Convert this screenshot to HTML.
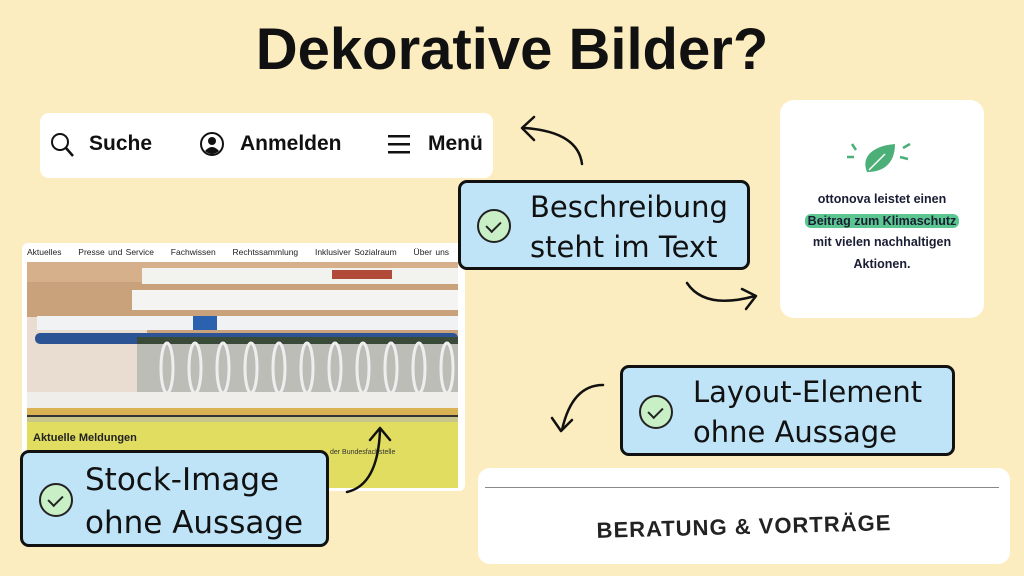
<!DOCTYPE html>
<html><head><meta charset="utf-8"><style>
*{margin:0;padding:0;box-sizing:border-box}
body{width:1024px;height:576px;background:#fcedc0;position:relative;overflow:hidden;font-family:"Liberation Sans","DejaVu Sans",sans-serif}
.a{position:absolute}
.lbl{position:absolute;background:#bfe4f8;border:3px solid #111;border-radius:9px;color:#111;font-family:"DejaVu Sans","Liberation Sans",sans-serif;font-size:29px;line-height:40px}
.chk{position:absolute;width:34px;height:34px;border-radius:50%;background:#c9efc6;border:2.5px solid #222}
.chk:after{content:"";position:absolute;left:10px;top:7px;width:7px;height:12px;border-right:2px solid #222;border-bottom:2px solid #222;transform:rotate(45deg)}
</style></head><body>
<div class="a" style="left:0;top:16px;width:1024px;text-align:center;font-size:58px;font-weight:bold;color:#111;letter-spacing:0px">Dekorative Bilder?</div>

<!-- nav box -->
<div class="a" style="left:40px;top:113px;width:453px;height:65px;background:#fff;border-radius:9px"></div>
<svg class="a" style="left:48px;top:130px" width="30" height="30"><circle cx="12" cy="12" r="8" fill="none" stroke="#111" stroke-width="2"/><line x1="18" y1="18" x2="25" y2="26" stroke="#111" stroke-width="2.5"/></svg>
<div class="a" style="left:89px;top:132px;font-size:21px;font-weight:bold;color:#111">Suche</div>
<svg class="a" style="left:199px;top:131px" width="28" height="28"><circle cx="13" cy="13" r="11" fill="none" stroke="#111" stroke-width="2"/><circle cx="13" cy="10" r="4" fill="#111"/><path d="M6 20 Q13 12 20 20 Q13 26 6 20Z" fill="#111"/></svg>
<div class="a" style="left:240px;top:132px;font-size:21px;font-weight:bold;color:#111">Anmelden</div>
<svg class="a" style="left:387px;top:133px" width="26" height="24"><rect x="1" y="2" width="22" height="2.5" fill="#111"/><rect x="1" y="10" width="22" height="2.5" fill="#111"/><rect x="1" y="18" width="22" height="2.5" fill="#111"/></svg>
<div class="a" style="left:428px;top:132px;font-size:21px;font-weight:bold;color:#111">Menü</div>

<!-- right card -->
<div class="a" style="left:780px;top:100px;width:204px;height:218px;background:#fff;border-radius:14px"></div>
<svg class="a" style="left:845px;top:140px" width="70" height="40"><path d="M22 32 C16 18 26 6 50 4 C50 22 40 32 22 32Z" fill="#4caf78"/><path d="M24 30 L40 14" stroke="#fff" stroke-width="1.5"/><line x1="7" y1="4" x2="11" y2="10" stroke="#4caf78" stroke-width="2.5"/><line x1="2" y1="17" x2="9" y2="17" stroke="#4caf78" stroke-width="2.5"/><line x1="58" y1="8" x2="65" y2="4" stroke="#4caf78" stroke-width="2.5"/><line x1="55" y1="17" x2="63" y2="19" stroke="#4caf78" stroke-width="2.5"/></svg>
<div class="a" style="left:780px;top:189px;width:204px;text-align:center;font-size:12.5px;font-weight:bold;color:#1a1d33;line-height:21.5px">ottonova leistet einen<br><span style="background:#5bc690;border-radius:6px;padding:0 3px">Beitrag zum Klimaschutz</span><br>mit vielen nachhaltigen<br>Aktionen.</div>

<!-- screenshot -->
<div class="a" style="left:22px;top:243px;width:443px;height:248px;background:#fff;border-radius:6px"></div>
<div class="a" style="left:27px;top:247px;font-size:8.5px;color:#222;word-spacing:1px;white-space:nowrap">Aktuelles&nbsp;&nbsp;&nbsp;&nbsp; Presse und Service&nbsp;&nbsp;&nbsp;&nbsp; Fachwissen&nbsp;&nbsp;&nbsp;&nbsp; Rechtssammlung&nbsp;&nbsp;&nbsp;&nbsp; Inklusiver Sozialraum&nbsp;&nbsp;&nbsp;&nbsp; Über uns&nbsp;&nbsp;&nbsp;&nbsp; Kontakt</div>
<svg class="a" style="left:27px;top:262px" width="431" height="226">
<rect width="431" height="226" fill="#e1dd60"/>
<rect width="431" height="146" fill="#c9a27c"/>
<rect y="0" width="431" height="20" fill="#d6b08a"/>
<rect x="0" y="55" width="120" height="90" fill="#e8ddd0"/>
<rect x="115" y="6" width="316" height="16" fill="#f2f2ee"/>
<rect x="305" y="8" width="60" height="9" fill="#b24a3a"/>
<rect x="105" y="28" width="326" height="20" fill="#f4f4f2"/>
<rect x="10" y="54" width="421" height="14" fill="#f0f2f4"/>
<rect x="166" y="54" width="24" height="14" fill="#2b62b0"/>
<rect x="8" y="71" width="423" height="11" rx="5" fill="#2c5394"/>
<rect x="110" y="75" width="321" height="7" fill="#3a4a38"/>
<rect x="110" y="82" width="321" height="48" fill="#bdbdb8"/>
<g fill="none" stroke="#eee" stroke-width="3">
<ellipse cx="140" cy="106" rx="6" ry="25"/><ellipse cx="168" cy="106" rx="6" ry="25"/><ellipse cx="196" cy="106" rx="6" ry="25"/><ellipse cx="224" cy="106" rx="6" ry="25"/><ellipse cx="252" cy="106" rx="6" ry="25"/><ellipse cx="280" cy="106" rx="6" ry="25"/><ellipse cx="308" cy="106" rx="6" ry="25"/><ellipse cx="336" cy="106" rx="6" ry="25"/><ellipse cx="364" cy="106" rx="6" ry="25"/><ellipse cx="392" cy="106" rx="6" ry="25"/><ellipse cx="420" cy="106" rx="6" ry="25"/></g>
<rect x="0" y="130" width="431" height="16" fill="#efeeea"/>
<rect x="0" y="146" width="431" height="7" fill="#d9b254"/>
<rect x="0" y="153" width="431" height="2" fill="#333"/>
<rect x="0" y="155" width="431" height="5" fill="#c8c68a"/>
</svg>
<div class="a" style="left:33px;top:432px;font-size:11px;font-weight:bold;color:#222">Aktuelle Meldungen</div>
<div class="a" style="left:330px;top:449px;font-size:7px;color:#333">der Bundesfachstelle</div>

<!-- labels -->
<div class="lbl" style="left:458px;top:180px;width:292px;height:90px"><div class="chk" style="left:16px;top:26px"></div><div class="a" style="left:69px;top:4px">Beschreibung<br>steht im Text</div></div>
<div class="lbl" style="left:20px;top:450px;width:309px;height:97px"><div class="chk" style="left:16px;top:30px"></div><div class="a" style="left:62px;top:6px;font-size:31px;line-height:43px">Stock-Image<br>ohne Aussage</div></div>
<div class="lbl" style="left:620px;top:365px;width:335px;height:91px"><div class="chk" style="left:16px;top:27px"></div><div class="a" style="left:70px;top:4px">Layout-Element<br>ohne Aussage</div></div>

<!-- beratung -->
<div class="a" style="left:478px;top:468px;width:532px;height:96px;background:#fff;border-radius:12px"></div>
<div class="a" style="left:485px;top:487px;width:514px;height:1px;background:#888"></div>
<div class="a" style="left:478px;top:514px;width:532px;text-align:center;font-size:22px;font-weight:bold;color:#222;letter-spacing:1px;transform:rotate(-1.5deg)">BERATUNG &amp; VORTRÄGE</div>

<!-- arrows -->
<svg class="a" style="left:0;top:0" width="1024" height="576" fill="none" stroke="#111" stroke-width="2.5" stroke-linecap="round" stroke-linejoin="round">
<path d="M582 164 Q578 132 525 128"/><path d="M534 117 L522 128 L534 140"/>
<path d="M687 283 Q705 310 755 296"/><path d="M742 289 L756 296 L746 309"/>
<path d="M603 385 Q572 385 562 430"/><path d="M552 418 L561 431 L572 420"/>
<path d="M347 492 Q378 485 380 430"/><path d="M370 440 L380 428 L390 440"/>
</svg>
</body></html>
